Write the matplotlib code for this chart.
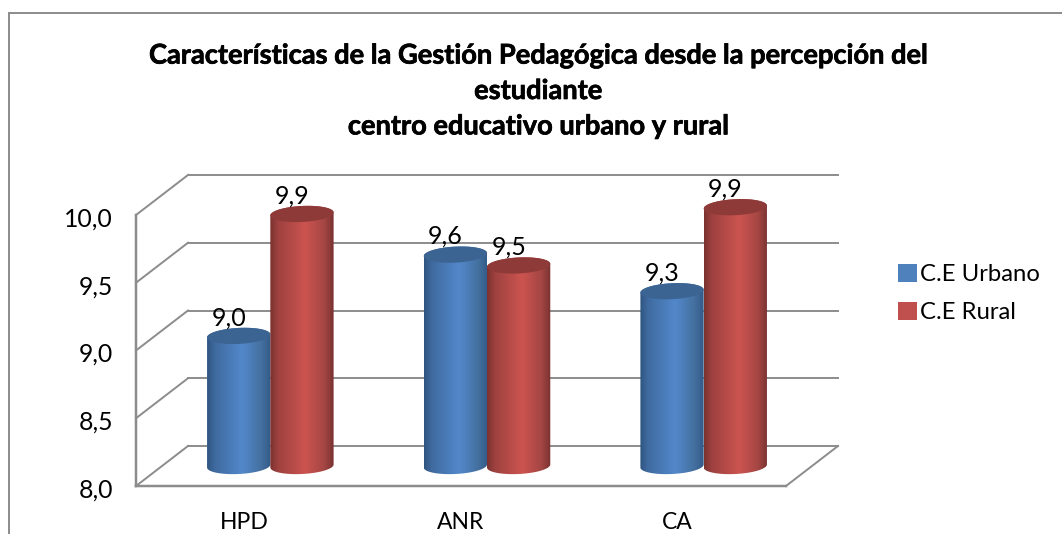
import numpy as np
import matplotlib
matplotlib.use("Agg")
import matplotlib.pyplot as plt
import matplotlib.patheffects as pe
from matplotlib.colors import LinearSegmentedColormap
from matplotlib.lines import Line2D
from matplotlib.patches import Patch, Polygon
from matplotlib.transforms import ScaledTranslation

categories = ["HPD", "ANR", "CA"]
series_names = ["C.E Urbano", "C.E Rural"]
urbano = [8.96, 9.56, 9.29]
rural = [9.86, 9.48, 9.91]
y_ticks = [8.0, 8.5, 9.0, 9.5, 10.0]
title = ("Características de la Gestión Pedagógica desde la percepción del\n"
         "estudiante\ncentro educativo urbano y rural")

W, H = 1062, 534
plt.rcParams["font.family"] = ["Lato", "DejaVu Sans"]
fig = plt.figure(figsize=(W / 100, H / 100), dpi=100)
fig.patch.set_facecolor("white")

L, R, B = 136, 786, 486
px_x = (R - L) / 3
px_y = 135.5
Y_MAX = 10.4                       # head-room so the 3D offset stays inside the axes
T = B - (Y_MAX - 8) * px_y
ax = fig.add_axes([L / W, 1 - B / H, (R - L) / W, (B - T) / H])
ax.patch.set_visible(False)

DX, DY = 52 / px_x, 40 / px_y
GRID = "#8c8c8c"
LW = 1.4


def frame():
    for v in y_ticks:
        ax.plot([-0.5 + DX, 2.5 + DX], [v + DY, v + DY], color=GRID, lw=LW, clip_on=False, zorder=1)
        ax.plot([-0.5, -0.5 + DX], [v, v + DY], color=GRID, lw=LW, clip_on=False, zorder=1)
    ax.plot([2.5, 2.5 + DX], [8, 8 + DY], color=GRID, lw=LW, clip_on=False, zorder=1)
    ax.plot([-0.5, 2.5], [8, 8], color=GRID, lw=LW + 0.4, clip_on=False, zorder=1)
    ax.plot([-0.5, -0.5], [8, 10], color=GRID, lw=LW + 0.4, clip_on=False, zorder=1)


def cylinder(cx, val, cmap, top_color, z):
    a = 0.146
    b = 8 / px_y
    s = 1.5 / px_y
    base = 8 + DY / 2
    top = val + DY / 2
    t = np.linspace(0, np.pi, 60)
    bx = cx + a * np.cos(t)
    by = base - b * np.sin(t) + s * np.cos(t)
    tt = np.linspace(np.pi, 0, 60)
    ux = cx + a * np.cos(tt)
    uy = top + b * np.sin(tt) + s * np.cos(tt)
    verts = np.column_stack([np.r_[bx, ux], np.r_[by, uy]])
    body = Polygon(verts, closed=True, transform=ax.transData, fc="none", ec="none", clip_on=False)
    ax.add_patch(body)
    grad = np.linspace(0, 1, 256).reshape(1, -1)
    im = ax.imshow(grad, extent=[cx - a, cx + a, base - 2 * b, top + 2 * b], aspect="auto",
                   cmap=cmap, zorder=z, interpolation="bilinear")
    im.set_clip_path(body)
    tf = np.linspace(0, 2 * np.pi, 120)
    ex = cx + a * np.cos(tf)
    ey = top + b * np.sin(tf) + s * np.cos(tf)
    ax.add_patch(Polygon(np.column_stack([ex, ey]), closed=True, fc=top_color, ec="none",
                         zorder=z + 0.1, clip_on=False))
    return top


blue = LinearSegmentedColormap.from_list("b", [(0, "#2f5480"), (0.12, "#3f6a9f"), (0.55, "#5288cb"),
                                               (0.85, "#44709f"), (1, "#335a88")])
red = LinearSegmentedColormap.from_list("r", [(0, "#7a3230"), (0.12, "#9d413f"), (0.55, "#cc5450"),
                                              (0.85, "#a54644"), (1, "#773230")])
frame()
for i, cat in enumerate(categories):
    c = i + DX / 2
    w = 0.146
    z = 3 + i
    for off, val, cm, tc, dz in ((-w, urbano[i], blue, "#3c6492", 0), (w, rural[i], red, "#8e3a38", 0.4)):
        top = cylinder(c + off, val, cm, tc, z + dz)
        ax.annotate(f"{val:.1f}".replace(".", ","), (c + off, top), xytext=(-7, 13),
                    textcoords="offset points", ha="center", va="center", fontsize=18,
                    color="black", zorder=20, annotation_clip=False)

ax.set_xlim(-0.5, 2.5)
ax.set_ylim(8, Y_MAX)
ax.set_xticks(range(len(categories)), categories)
ax.set_yticks(y_ticks, [f"{v:.1f}".replace(".", ",") for v in y_ticks])
ax.tick_params(axis="both", length=0, labelcolor="black")
ax.tick_params(axis="x", pad=18.5, labelsize=16.5)
ax.tick_params(axis="y", pad=16.5, labelsize=17.8)
shift = ScaledTranslation(0, -2 / 100, fig.dpi_scale_trans)
for lab in ax.get_yticklabels():
    lab.set_transform(lab.get_transform() + shift)
for sp in ax.spines.values():
    sp.set_visible(False)

fig.text(538 / W, 1 - 91 / H, title, ha="center", va="center", fontsize=19.6, fontweight="bold",
         linespacing=1.57, color="black",
         path_effects=[pe.withStroke(linewidth=0.5, foreground="black")])

handles = [Patch(fc="#4f81bd", ec="none"), Patch(fc="#c0504d", ec="none")]
fig.legend(handles, series_names, loc="upper left", bbox_to_anchor=(898 / W, 1 - 264 / H),
           frameon=False, fontsize=17.2, handlelength=0.78, handleheight=0.78, handletextpad=0.15,
           labelspacing=0.68, borderpad=0, borderaxespad=0)

for xs, ys in (([8.5, 8.5], [12.5, 534]), ([8.5, 1062], [12.5, 12.5])):
    fig.add_artist(Line2D([x / W for x in xs], [1 - y / H for y in ys], color="#8c8c8c", lw=1.4))

fig.savefig("out.png", dpi=100)
